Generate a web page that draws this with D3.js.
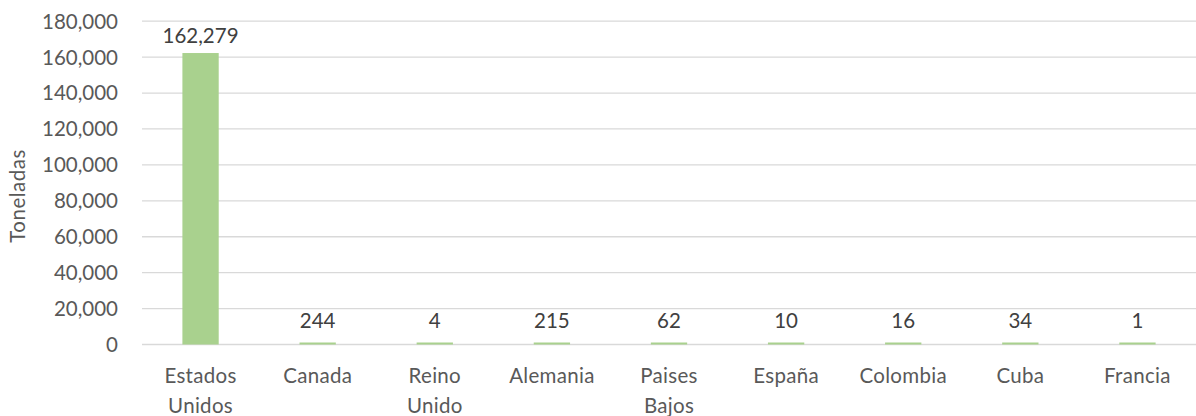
<!DOCTYPE html>
<html>
<head>
<meta charset="utf-8">
<script src="https://cdn.jsdelivr.net/npm/d3@7"></script>
<style>
  body { margin: 0; background: #fff; }
  svg { display: block; font-family: Lato, "Open Sans", sans-serif; }
</style>
</head>
<body>
<svg id="chart" width="1196" height="416"></svg>
<script>
// data
const countries = [["Estados", "Unidos"], ["Canada"], ["Reino", "Unido"], ["Alemania"], ["Paises", "Bajos"], ["España"], ["Colombia"], ["Cuba"], ["Francia"]];
const tons = [162279, 244, 4, 215, 62, 10, 16, 34, 1];
const yTicks = [0, 20000, 40000, 60000, 80000, 100000, 120000, 140000, 160000, 180000];

const svg = d3.select("#chart");
const plotLeft = 142, plotRight = 1196, plotTop = 21.2, plotBottom = 344.5;
const fontSize = "20.5px";

const x = d3.scaleBand()
  .domain(d3.range(countries.length))
  .range([plotLeft, plotRight])
  .paddingInner(0.69)
  .paddingOuter(0.345);

const y = d3.scaleLinear().domain([0, 180000]).range([plotBottom, plotTop]);

// gridlines
svg.append("g")
  .selectAll("line")
  .data(yTicks)
  .enter()
  .append("line")
  .attr("x1", plotLeft)
  .attr("x2", plotRight)
  .attr("y1", (d) => y(d))
  .attr("y2", (d) => y(d))
  .attr("stroke", "#d9d9d9")
  .attr("stroke-width", 1.3);

// y tick labels
svg.append("g")
  .selectAll("text")
  .data(yTicks)
  .enter()
  .append("text")
  .attr("x", 118)
  .attr("y", (d) => y(d))
  .attr("dy", "0.36em")
  .attr("text-anchor", "end")
  .attr("fill", "#595959")
  .style("font-size", fontSize)
  .text((d) => d3.format(",")(d));

// y axis title
svg.append("text")
  .attr("transform", "translate(25,196) rotate(-90)")
  .attr("text-anchor", "middle")
  .attr("fill", "#595959")
  .style("font-size", fontSize)
  .style("letter-spacing", "0.5px")
  .text("Toneladas");

// bars (tiny values get a hairline so they stay visible like in the original)
svg.append("g")
  .selectAll("rect")
  .data(tons)
  .enter()
  .append("rect")
  .attr("x", (d, i) => x(i))
  .attr("width", x.bandwidth())
  .attr("y", (d) => Math.min(y(d), plotBottom - 2))
  .attr("height", (d) => Math.max(plotBottom - y(d), 2))
  .attr("fill", "#a9d18e");

// value labels
svg.append("g")
  .selectAll("text")
  .data(tons)
  .enter()
  .append("text")
  .attr("x", (d, i) => x(i) + x.bandwidth() / 2)
  .attr("y", (d) => Math.min(y(d) - 10, plotBottom - 17))
  .attr("text-anchor", "middle")
  .attr("fill", "#404040")
  .style("font-size", fontSize)
  .text((d) => d3.format(",")(d));

// category labels
const cats = svg.append("g")
  .selectAll("text")
  .data(countries)
  .enter()
  .append("text")
  .attr("x", (d, i) => x(i) + x.bandwidth() / 2)
  .attr("y", 383)
  .attr("text-anchor", "middle")
  .attr("fill", "#595959")
  .style("font-size", fontSize)
  .style("letter-spacing", "0.3px");

cats.selectAll("tspan")
  .data((d) => d)
  .enter()
  .append("tspan")
  .attr("x", function () { return d3.select(this.parentNode).attr("x"); })
  .attr("dy", (d, i) => (i === 0 ? 0 : 30))
  .text((d) => d);
</script>
</body>
</html>
